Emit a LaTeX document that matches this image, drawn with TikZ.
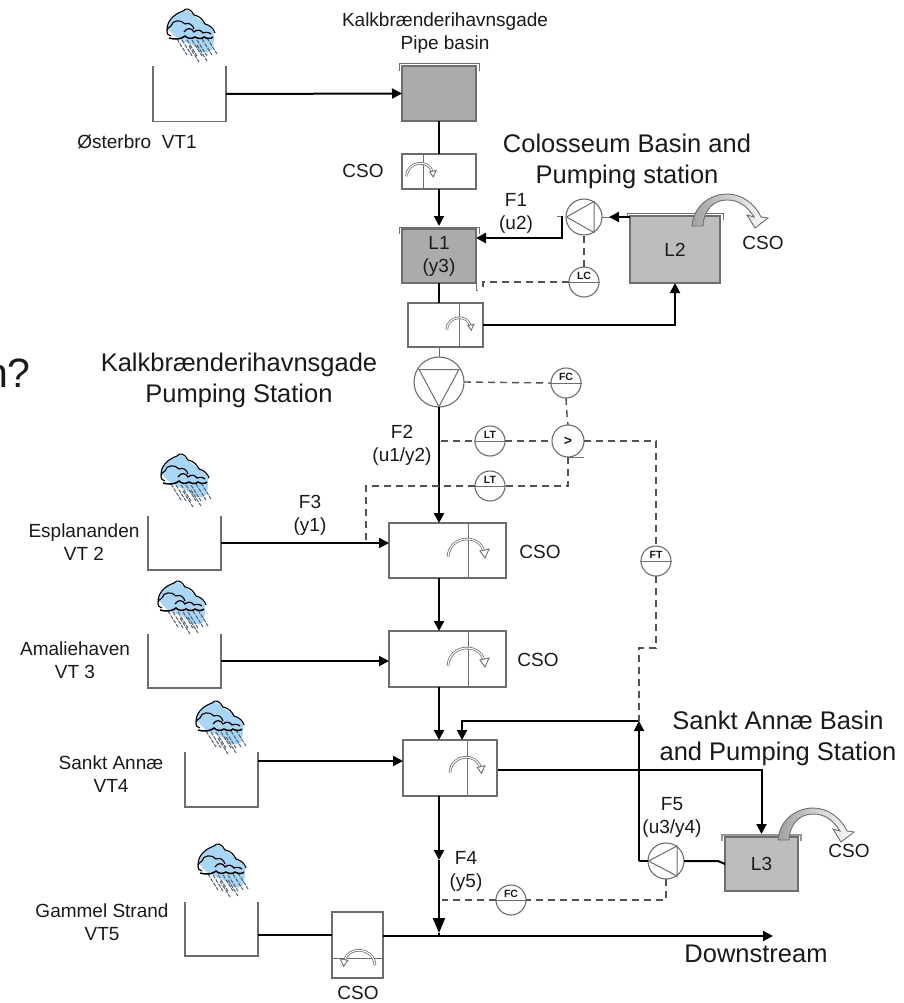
\documentclass[tikz,border=0pt]{standalone}
\usepackage{fontspec}
\setmainfont{Liberation Sans}
\usetikzlibrary{arrows.meta,calc}
\definecolor{inkc}{HTML}{1A1A1A}
\definecolor{edgec}{HTML}{6E6E6E}
\definecolor{darkb}{HTML}{ABABAB}
\definecolor{lightb}{HTML}{BDBDBD}
\definecolor{rainb}{HTML}{A9D5F7}
\definecolor{drop}{HTML}{4F5F70}
\tikzset{
  x=1pt,y=-1pt,
  lab/.style={font=\fontsize{19}{23}\selectfont,align=center,text=inkc,inner sep=0pt},
  biglab/.style={font=\fontsize{25.5}{31}\selectfont,align=center,text=inkc,inner sep=0pt},
  boxn/.style={draw=edgec,line width=1.1pt,fill=white,inner sep=0pt,outer sep=0pt},
  basinn/.style={draw=edgec,line width=1.3pt,inner sep=0pt,outer sep=0pt,font=\fontsize{19}{23}\selectfont,align=center,text=inkc},
  tankn/.style={inner sep=0pt,outer sep=0pt},
  flow/.style={draw=black,line width=2pt},
  thickflow/.style={draw=black,line width=2.6pt},
  tip/.style={-{Triangle[length=10pt,width=10pt]}},
  bigtip/.style={-{Triangle[length=15pt,width=12pt]}},
  sig/.style={draw=edgec!75!black,line width=1.4pt,dash pattern=on 7pt off 5pt},
  pumpn/.style={circle,draw=edgec,line width=1.1pt,fill=white,inner sep=0pt,outer sep=0pt},
  instr/.style={circle,draw=edgec,line width=1.1pt,fill=white,minimum size=30pt,inner sep=0pt,outer sep=0pt},
  itag/.style={font=\bfseries\fontsize{10.5}{11}\selectfont,text=inkc,inner sep=0pt},
  weirb/.pic={
    \draw[edgec,line width=2.6pt] (-20,10) .. controls (-19,-12) and (12,-14) .. (16,5);
    \draw[white,line width=1.1pt] (-20,10) .. controls (-19,-12) and (12,-14) .. (16,5);
    \draw[edgec,line width=0.9pt,fill=white] (12,4) -- (21,2) -- (17,11) -- cycle;
  },
  spill/.pic={
    \shade[draw=edgec,line width=0.9pt,left color=lightb!85!black,right color=white]
      (-5,0) .. controls (-3,-22) and (15,-32) .. (30,-32)
      .. controls (45,-32) and (58,-22) .. (64,-9) -- (71,-8) -- (58,2) -- (50,-11) -- (57,-9)
      .. controls (50,-20) and (42,-26) .. (30,-26)
      .. controls (18,-26) and (7,-18) .. (6,0) -- cycle;
  },
  rainc/.pic={
    \fill[rainb] plot[smooth cycle] coordinates {(-23,-3) (-18,-14) (-5,-20) (5,-13) (17,-5) (23,3) (21,20) (12,22) (0,14) (-14,8)};
    \foreach \a/\b in {-14/9,-9/10,-4/10,1/10,6/10,11/9,16/8,-2/16,6/15}
      \draw[drop,line width=1pt,dash pattern=on 4pt off 1.2pt] (\a,\b) -- ++(10,16);
    \draw[black,line width=1.1pt] (-8,-19) .. controls (-5,-23) and (0,-21) .. (3,-15)
      .. controls (9,-14) and (12,-10) .. (14,-6) .. controls (19,-5) and (23,-1) .. (24,3);
    \draw[black,line width=1.1pt] (-24,0) .. controls (-24,-8) and (-19,-15) .. (-8,-19);
    \draw[black,line width=1.1pt] (-20,6) .. controls (-26,5) and (-25,-2) .. (-20,-4)
      .. controls (-19,-10) and (-10,-11) .. (-6,-6) .. controls (-2,-8) and (2,-5) .. (3,-1);
    \draw[black,line width=1.5pt] (-22,8) .. controls (-16,10) and (-9,9) .. (-6,6)
      .. controls (-3,9) and (1,9) .. (4,7) .. controls (7,9) and (11,9) .. (13,7)
      .. controls (16,9) and (20,9) .. (22,7);
    \draw[black,line width=1.2pt] (-7,2) .. controls (-4,-3) and (1,-2) .. (3,2)
      .. controls (6,-1) and (10,0) .. (12,3) .. controls (14,2) and (18,2) .. (20,4);
  }
}
\begin{document}
\begin{tikzpicture}
\useasboundingbox (0,0) rectangle (904,1003);
\clip (0,0) rectangle (904,1003);
\fill[white] (0,0) rectangle (904,1003);

% clipped text at the left edge
\node[font=\fontsize{41}{41}\selectfont,text=inkc,anchor=base east,inner sep=0pt] (cut) at (31,387) {n?};

% clouds
\pic at (191,30) {rainc};
\pic at (185,475) {rainc};
\pic at (182,602) {rainc};
\pic at (220,722) {rainc};
\pic at (222,865) {rainc};

% open tanks
\node[tankn,minimum width=73pt,minimum height=55pt] (t1) at (189.5,94) {};
\node[tankn,minimum width=73pt,minimum height=54pt] (t2) at (184.5,543) {};
\node[tankn,minimum width=73pt,minimum height=54pt] (t3) at (184.5,661) {};
\node[tankn,minimum width=73pt,minimum height=55pt] (t4) at (221.5,779.5) {};
\node[tankn,minimum width=73pt,minimum height=54pt] (t5) at (221.5,929) {};
\foreach \t in {t1,t2,t3,t4,t5}
  \draw[edgec,line width=1.3pt] (\t.north west) -- (\t.south west) -- (\t.south east) -- (\t.north east);

% basins
\node[basinn,fill=darkb,minimum width=74pt,minimum height=55pt] (pb) at (439,93.5) {};
\node[basinn,fill=darkb,minimum width=74pt,minimum height=54pt] (l1) at (439,256) {L1\\(y3)};
\node[basinn,fill=lightb,minimum width=90pt,minimum height=67pt] (l2) at (675,249.5) {L2};
\node[basinn,fill=lightb,minimum width=73pt,minimum height=54pt] (l3) at (761.5,864) {L3};
\foreach \b in {pb,l1}
  \draw[edgec,line width=1pt] ([shift={(-3,5)}]\b.north west) -- ([shift={(-3,-2)}]\b.north west) -- ([shift={(3,-2)}]\b.north east) -- ([shift={(3,5)}]\b.north east);
\draw[edgec,line width=1pt] ([shift={(-3,0)}]l2.north west) -- ([shift={(-3,-3)}]l2.north west) -- ([shift={(3,-3)}]l2.north east) -- ([shift={(3,4)}]l2.north east);
\draw[lightb!80!black,line width=2pt] ([shift={(-3,4)}]l3.north west) -- ([shift={(-3,-2)}]l3.north west) -- ([shift={(3,-2)}]l3.north east) -- ([shift={(3,4)}]l3.north east);
\pic at (697,226) {spill};
\pic at (783,840) {spill};

% CSO chambers
\node[boxn,minimum width=74pt,minimum height=35pt] (c1) at (439,171.5) {};
\node[boxn,minimum width=75pt,minimum height=44pt] (c2) at (445.5,325) {};
\node[boxn,minimum width=117pt,minimum height=55pt] (c3) at (447.5,550.5) {};
\node[boxn,minimum width=117pt,minimum height=56pt] (c4) at (447.5,659) {};
\node[boxn,minimum width=94pt,minimum height=56pt] (c5) at (450,768) {};
\node[boxn,minimum width=51pt,minimum height=66pt] (c6) at (357.5,945) {};
\coordinate (d1) at (423,171);
\coordinate (d2) at (459,325);
\coordinate (d3) at (468,550);
\coordinate (d4) at (468,659);
\coordinate (d5) at (467,768);
\draw[edgec,line width=1pt] (d1 |- c1.north) -- (d1 |- c1.south);
\draw[edgec,line width=1pt] (d2 |- c2.north) -- (d2 |- c2.south);
\draw[edgec,line width=1pt] (d3 |- c3.north) -- (d3 |- c3.south);
\draw[edgec,line width=1pt] (d4 |- c4.north) -- (d4 |- c4.south);
\draw[edgec,line width=1pt] (d5 |- c5.north) -- (d5 |- c5.south);
\draw[edgec,line width=1pt] (c6.west |- 0,958) -- (c6.east |- 0,958);
\pic[scale=0.72] at (421,169) {weirb};
\pic[scale=0.66] at (460,323) {weirb};
\pic at (468,547) {weirb};
\pic at (468,656) {weirb};
\pic[scale=0.85] at (467,764) {weirb};
\pic[xscale=-0.85,yscale=0.85] at (358,957) {weirb};

% pumps
\node[pumpn,minimum size=36pt] (pf1) at (584,217) {};
\draw[edgec,line width=1pt] (566.5,217) -- (594,201.5) -- (594,232.5) -- cycle;
\node[pumpn,minimum size=50pt] (pk) at (439,382) {};
\draw[edgec,line width=1pt] (419,369.5) -- (459,369.5) -- (439,406.5) -- cycle;
\node[pumpn,minimum size=36pt] (pf5) at (666,861) {};
\draw[edgec,line width=1pt] (648.5,861) -- (677,846) -- (677,876) -- cycle;

% instruments
\node[instr] (lc) at (584,282) {};
\node[instr] (fc1) at (566,383) {};
\node[instr,minimum size=32pt] (cmp) at (568,441) {};
\node[instr] (lt1) at (490,441) {};
\node[instr] (lt2) at (490,486) {};
\node[instr] (ft) at (656,561) {};
\node[instr] (fc2) at (511,900) {};
\foreach \i in {lc,fc1,lt1,lt2,ft,fc2}
  \draw[edgec,line width=1pt] ([xshift=-1pt]\i.west) -- ([xshift=1pt]\i.east);
\node[itag,yshift=6.5pt] (tlc) at (lc) {LC};
\node[itag,yshift=6.5pt] (tfc1) at (fc1) {FC};
\node[itag,yshift=6.5pt] (tlt1) at (lt1) {LT};
\node[itag,yshift=6.5pt] (tlt2) at (lt2) {LT};
\node[itag,yshift=6.5pt] (tft) at (ft) {FT};
\node[itag,yshift=6.5pt] (tfc2) at (fc2) {FC};
\node[font=\bfseries\fontsize{14}{14}\selectfont,inner sep=0pt,text=inkc] (tcmp) at (cmp) {>};
\draw[edgec,line width=1pt] (cmp.south) -- ++(16,0);

% flows
\coordinate (xm) at (439,0);
\draw[flow,tip] (t1.east) -- (pb.west);
\draw[flow] (pb.south) -- (c1.north);
\draw[flow,tip] (c1.south) -- ([yshift=3pt]l1.north);
\coordinate (f1a) at (562,216);
\coordinate (f1b) at (562,238);
\draw[edgec,line width=1pt] (557,216) -- (f1a);
\draw[thickflow,tip] (f1a) -- (f1b) -- (f1b -| l1.east);
\draw[edgec,line width=1pt] (l2.west |- pf1.east) -- (pf1.east);
\draw[flow,tip] (l2.west |- pf1.east) -- (609,217);
\draw[flow] (l1.south) -- (l1.south |- c2.north);
\draw[flow,tip] (c2.east) -- (l2.south |- c2.east) -- (l2.south);
\draw[edgec,line width=1pt] (xm |- c2.south) -- (pk.north);
\draw[thickflow,tip] (pk.south) -- (xm |- c3.north);
\draw[flow,tip] (t2.east) -- (c3.west |- t2.east);
\draw[flow,tip] (xm |- c3.south) -- (xm |- c4.north);
\draw[flow,tip] (t3.east) -- (c4.west |- t3.east);
\draw[flow,tip] (xm |- c4.south) -- (xm |- c5.north);
\coordinate (t4o) at (258,761);
\draw[flow,tip] (t4o) -- (c5.west |- t4o);
\coordinate (f5t) at (639,721);
\coordinate (c5r) at (462,721);
\draw[flow,tip] (f5t) -- (c5r) -- (c5r |- c5.north);
\draw[flow,tip] (pf5.west -| f5t) -- (f5t);
\draw[flow] (pf5.west -| f5t) -- (pf5.west);
\coordinate (c5o) at (498,770);
\draw[flow,tip] (c5o) -- (c5o -| l3.north) -- ([yshift=3pt]l3.north);
\coordinate (l3k) at (718,861);
\draw[flow] (pf5.east) -- (l3k) -- (l3.west |- 0,864);
\coordinate (junc) at (439,936);
\coordinate (f4m) at (439,860);
\coordinate (f4e) at (439,933);
\draw[flow,tip] (xm |- c5.south) -- (f4m);
\draw[flow,bigtip] (f4m) -- (f4e);
\draw[flow] (f4e) -- (junc);
\draw[flow,tip] (c6.east |- junc) -- (junc) -- (773,936);
\coordinate (t5o) at (258,935);
\draw[flow] (t5o) -- (c6.west |- t5o);

% signals
\draw[sig] (lc.north) -- (pf1.south);
\coordinate (s1) at (483,282);
\coordinate (s2) at (483,290);
\draw[sig] (lc.west) -- (s1) -- (s2);
\draw[edgec,line width=1pt] (l1.south east) -- (476,290) -- (478,290);
\draw[sig] (pk.east) -- (fc1.west);
\draw[sig] (fc1.south) -- (567,415) -- (cmp.north);
\draw[sig] (441,441) -- (lt1.west);
\draw[sig] (lt1.east) -- (cmp.west);
\coordinate (s3) at (656,441);
\draw[sig] (cmp.east) -- (s3) -- (ft.north);
\coordinate (s4) at (656,648);
\coordinate (s5) at (639,648);
\draw[sig] (ft.south) -- (s4) -- (s5) -- (f5t);
\coordinate (s6) at (568,486);
\coordinate (s7) at (366,486);
\coordinate (s8) at (366,543);
\draw[sig] (cmp.south) -- (s6) -- (lt2.east);
\draw[sig] (lt2.west) -- (s7) -- (s8);
\coordinate (s9) at (666,900);
\coordinate (s10) at (442,900);
\draw[sig] (pf5.south) -- (s9) -- (fc2.east);
\draw[sig] (fc2.west) -- (s10);

% labels
\node[lab] (a1) at (445,33) {Kalkbrænderihavnsgade\\Pipe basin};
\node[lab] (a2) at (137,142) {Østerbro\ \ VT1};
\node[lab] (a3) at (363,171) {CSO};
\node[biglab] (a4) at (627,161) {Colosseum Basin and\\Pumping station};
\node[lab] (a5) at (516,213) {F1\\(u2)};
\node[lab] (a6) at (763,243) {CSO};
\node[biglab] (a7) at (239,380) {Kalkbrænderihavnsgade\\Pumping Station};
\node[lab] (a8) at (402,445) {F2\\(u1/y2)};
\node[lab] (a9) at (310,515) {F3\\(y1)};
\node[lab] (a10) at (84,542) {Esplananden\\VT 2};
\node[lab] (a11) at (540,552) {CSO};
\node[lab] (a12) at (75,660) {Amaliehaven\\VT 3};
\node[lab] (a13) at (538,660) {CSO};
\node[biglab] (a14) at (778,738) {Sankt Annæ Basin\\and Pumping Station};
\node[lab] (a15) at (111,774) {Sankt Annæ\\VT4};
\node[lab] (a16) at (672,817) {F5\\(u3/y4)};
\node[lab] (a17) at (849,851) {CSO};
\node[lab] (a18) at (466,871) {F4\\(y5)};
\node[lab] (a19) at (102,922) {Gammel Strand\\VT5};
\node[biglab] (a20) at (756,954) {Downstream};
\node[lab] (a21) at (358,993) {CSO};
\end{tikzpicture}
\end{document}
